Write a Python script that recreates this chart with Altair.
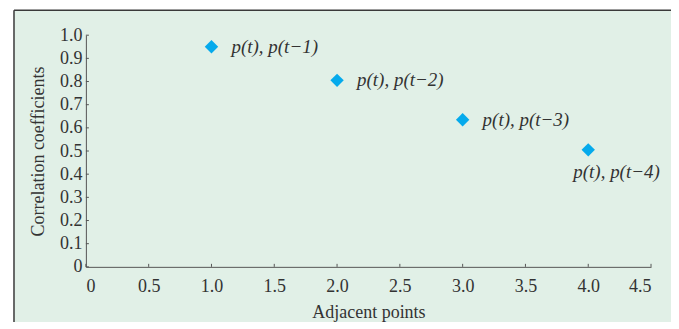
import altair as alt
import pandas as pd

lags = [1, 2, 3, 4]
corr = [0.95, 0.805, 0.635, 0.505]
labels = ["p(t), p(t\u22121)", "p(t), p(t\u22122)", "p(t), p(t\u22123)", "p(t), p(t\u22124)"]
x_ticks = [0, 0.5, 1.0, 1.5, 2.0, 2.5, 3.0, 3.5, 4.0, 4.5]
y_ticks = [0, 0.1, 0.2, 0.3, 0.4, 0.5, 0.6, 0.7, 0.8, 0.9, 1.0]

df = pd.DataFrame({"lag": lags, "corr": corr, "label": labels})
xt = pd.DataFrame({"lag": x_ticks})
yt = pd.DataFrame({"corr": y_ticks})

W, H = 566, 232
PL, PT, PR, PB = 78, 27, 20, 55
BG = "#e1f0e7"
EDGE = "#555555"
FONT = "Liberation Serif"

xscale = alt.Scale(domain=[0, 4.5], nice=False, zero=True)
yscale = alt.Scale(domain=[0, 1.0], nice=False, zero=True)

lbl = "datum.value == 0 ? '0' : format(datum.value, '.1f')"

x_axis = alt.Axis(values=x_ticks, labelExpr=lbl, title="Adjacent points", grid=False,
                  ticks=False, labelPadding=11, titlePadding=8, zindex=1, labelOverlap=False)
y_axis = alt.Axis(values=y_ticks, labelExpr=lbl, title="Correlation coefficients", grid=False,
                  ticks=False, labelPadding=4, titlePadding=12, zindex=1, labelOverlap=False)

X = alt.X("lag:Q", scale=xscale, axis=x_axis)
Y = alt.Y("corr:Q", scale=yscale, axis=y_axis)

base = alt.Chart(df)

frame = alt.Chart(pd.DataFrame({"a": [0]})).mark_rect(color=BG, strokeWidth=0).encode(
    x=alt.value(-72), x2=alt.value(W + PR + 10),
    y=alt.value(-25), y2=alt.value(H + PB + 10),
)
top_line = alt.Chart(pd.DataFrame({"a": [0]})).mark_rule(color="#3a3a3a", strokeWidth=1.5).encode(
    x=alt.value(-72), x2=alt.value(W + PR + 10), y=alt.value(-25)
)
left_line = alt.Chart(pd.DataFrame({"a": [0]})).mark_rule(color="#3a3a3a", strokeWidth=1.5).encode(
    x=alt.value(-72), y=alt.value(-25), y2=alt.value(H + PB + 10)
)

points = base.mark_point(shape="diamond", filled=True, size=180, color="#05aaec", opacity=1).encode(
    x=X, y=Y,
)

xticks = alt.Chart(xt).mark_rule(color=EDGE, strokeWidth=1).encode(
    x=X, y=alt.value(H - 3), y2=alt.value(H)
)
yticks = alt.Chart(yt).mark_rule(color=EDGE, strokeWidth=1).encode(
    y=Y, x=alt.value(0), x2=alt.value(3)
)

text_right = base.transform_filter("datum.lag < 4").mark_text(
    align="left", baseline="middle", dx=20, font=FONT, fontSize=19, fontStyle="italic", color="#333333"
).encode(x=X, y=Y, text="label:N")

text_below = base.transform_filter("datum.lag == 4").mark_text(
    align="left", baseline="middle", dx=-15, dy=22, font=FONT, fontSize=19, fontStyle="italic", color="#333333"
).encode(x=X, y=Y, text="label:N")

chart = alt.layer(frame, top_line, left_line, points, xticks, yticks, text_right, text_below).properties(
    width=W, height=H,
    autosize=alt.AutoSizeParams(type="none"),
    padding={"left": PL, "top": PT, "right": PR, "bottom": PB},
    background="white",
).configure_view(stroke=None).configure_axis(
    domainColor=EDGE, domainWidth=1, labelOverlap=False,
    labelFont=FONT, labelFontSize=18, labelColor="#333333",
    titleFont=FONT, titleFontSize=18, titleColor="#333333", titleFontWeight="normal",
)

chart.save("out.html", embed_options={"renderer": "svg", "actions": False})
